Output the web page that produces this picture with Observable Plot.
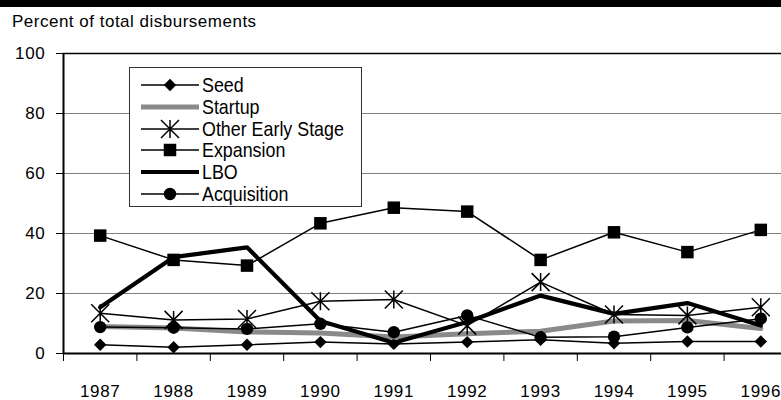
<!DOCTYPE html>
<html><head><meta charset="utf-8">
<script src="https://cdn.jsdelivr.net/npm/d3@7"></script>
<script src="https://cdn.jsdelivr.net/npm/@observablehq/plot@0.6"></script>
<style>
html,body{margin:0;padding:0;background:#fff;}
#wrap{position:relative;width:781px;height:400px;overflow:hidden;font-family:"Liberation Sans",Arial,sans-serif;color:#000;}
#bar{position:absolute;left:0;top:0;width:781px;height:7px;background:#000;}
#title{position:absolute;left:12px;top:12px;font-size:17px;letter-spacing:0.5px;line-height:1.15;white-space:nowrap;}
#chart{position:absolute;left:0;top:32px;}
#chart text{letter-spacing:0.7px;}
#legend{position:absolute;left:129px;top:67px;width:233px;height:140px;box-sizing:border-box;border:1px solid #333;background:#fff;padding-top:6px;}
.row{display:flex;align-items:center;height:21.8px;}
.row svg{margin-left:11px;margin-right:3px;flex:none;}
.row span{display:inline-block;font-size:21px;line-height:21.8px;white-space:nowrap;transform:scaleX(0.85);transform-origin:left center;}
</style>
</head><body>
<div id="wrap">
  <div id="bar"></div>
  <div id="title">Percent of total disbursements</div>
  <div id="chart"></div>
  <div id="legend"></div>
</div>
<script>
const years = [1987, 1988, 1989, 1990, 1991, 1992, 1993, 1994, 1995, 1996];
const seed        = [2.9, 2.1, 2.9, 3.8, 3.2, 3.8, 4.6, 3.4, 4.0, 4.0];
const startup     = [9.0, 8.5, 7.2, 6.8, 5.5, 6.6, 7.4, 10.8, 11.0, 8.3];
const otherEarly  = [13.4, 11.2, 11.5, 17.4, 18.0, 9.3, 23.8, 13.0, 12.7, 15.4];
const expansion   = [39.3, 31.2, 29.3, 43.4, 48.6, 47.3, 31.2, 40.4, 33.8, 41.2];
const lbo         = [15.4, 32.1, 35.4, 10.8, 3.6, 10.5, 19.3, 13.2, 16.8, 9.3];
const acquisition = [8.8, 8.6, 8.2, 9.9, 7.1, 12.7, 5.4, 5.6, 8.7, 11.6];
const seriesNames = ["Seed", "Startup", "Other Early Stage", "Expansion", "LBO", "Acquisition"];
const yTicks = [0, 20, 40, 60, 80, 100];
const gridValues = [20, 40, 60, 80];

const starSymbol = {
  draw(ctx, size) {
    const r = Math.sqrt(size / Math.PI);
    ctx.moveTo(0, -r); ctx.lineTo(0, r);
    ctx.moveTo(-r, -r); ctx.lineTo(r, r);
    ctx.moveTo(-r, r); ctx.lineTo(r, -r);
  }
};

const styles = [
  {values: seed, stroke: "#000", width: 1.5, symbol: "diamond2", r: 5.6, fill: "#000"},
  {values: startup, stroke: "#8a8a8a", width: 5, symbol: null},
  {values: otherEarly, stroke: "#000", width: 1.5, symbol: starSymbol, r: 9, fill: "none"},
  {values: expansion, stroke: "#000", width: 1.5, symbol: "square", r: 7.05, fill: "#000"},
  {values: lbo, stroke: "#000", width: 4.2, symbol: null},
  {values: acquisition, stroke: "#000", width: 1.5, symbol: "circle", r: 6.2, fill: "#000"}
];

const fontFamily = '"Liberation Sans",Arial,sans-serif';

const marks = [
  Plot.ruleY(gridValues, {stroke: "#808080", strokeWidth: 1}),
  Plot.ruleY([yTicks[yTicks.length - 1]], {stroke: "#000", strokeWidth: 1.5}),
  Plot.axisY({ticks: yTicks, tickSize: 7, tickPadding: 11, label: null, stroke: "#000"}),
  Plot.axisX({ticks: years.map(y => y - 0.5), tickSize: 8, tickFormat: () => "", label: null, stroke: "#000"}),
  Plot.axisX({ticks: years, tickSize: 0, tickPadding: 31, tickFormat: d => String(d), label: null})
];

styles.forEach((s, k) => {
  const data = years.map((y, i) => ({year: y, value: s.values[i], series: seriesNames[k]}));
  marks.push(Plot.line(data, {x: "year", y: "value", stroke: s.stroke, strokeWidth: s.width, strokeLinejoin: "miter"}));
  if (s.symbol) {
    marks.push(Plot.dot(data, {x: "year", y: "value", symbol: s.symbol, r: s.r,
      fill: s.fill, stroke: "#000", strokeWidth: s.fill === "none" ? 1.5 : 0}));
  }
});

marks.push(Plot.ruleX([years[0] - 0.5], {y1: yTicks[0], y2: yTicks[yTicks.length - 1], stroke: "#000", strokeWidth: 2}));
marks.push(Plot.ruleY([yTicks[0]], {stroke: "#000", strokeWidth: 2.2}));

const chart = Plot.plot({
  width: 781,
  height: 368,
  marginLeft: 63,
  marginRight: 0,
  marginTop: 21,
  marginBottom: 47,
  style: {fontFamily, fontSize: "17px", color: "#000", background: "transparent", overflow: "hidden"},
  x: {type: "linear", domain: [years[0] - 0.5, years[years.length - 1] + 0.5], range: [63, 797]},
  y: {domain: [yTicks[0], yTicks[yTicks.length - 1]]},
  marks
});
document.getElementById("chart").appendChild(chart);

// Legend
const legend = d3.select("#legend");
styles.forEach((s, k) => {
  const row = legend.append("div").attr("class", "row");
  const svg = row.append("svg").attr("width", 58).attr("height", 22);
  svg.append("line").attr("x1", 0).attr("x2", 58).attr("y1", 11).attr("y2", 11)
    .attr("stroke", s.stroke).attr("stroke-width", s.width);
  if (s.symbol) {
    const sym = typeof s.symbol === "string"
      ? {diamond2: d3.symbolDiamond2, square: d3.symbolSquare, circle: d3.symbolCircle}[s.symbol]
      : s.symbol;
    svg.append("path").attr("transform", "translate(29,11)")
      .attr("d", d3.symbol(sym, Math.PI * s.r * s.r)())
      .attr("fill", s.fill).attr("stroke", "#000").attr("stroke-width", s.fill === "none" ? 1.5 : 0);
  }
  row.append("span").text(seriesNames[k]);
});
</script>
</body></html>
